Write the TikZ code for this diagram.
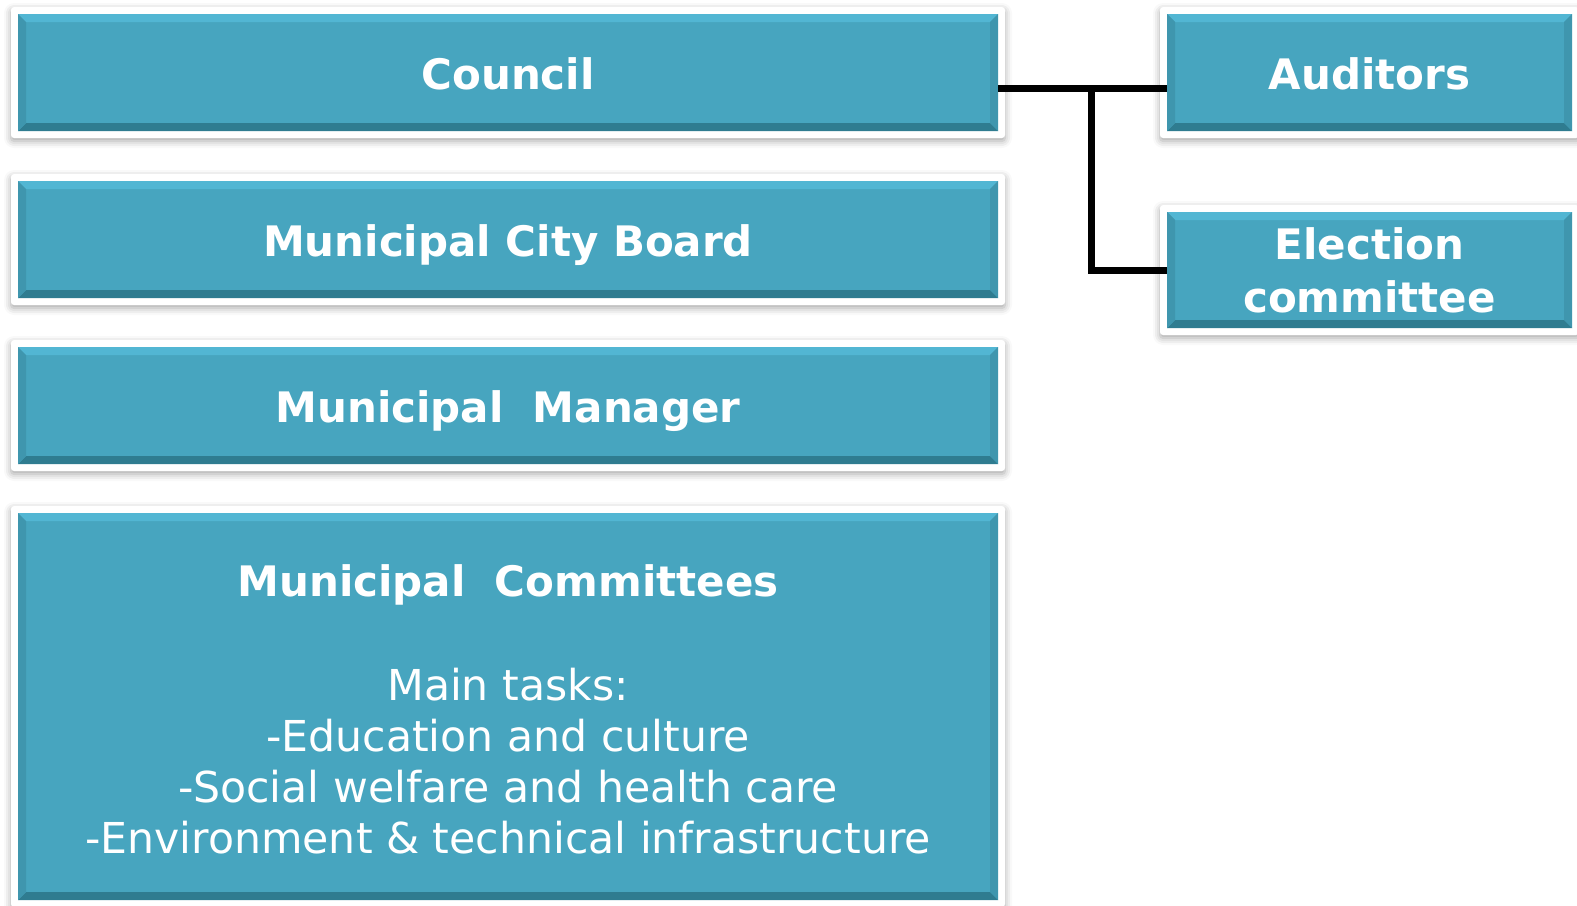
\documentclass[tikz,border=0pt]{standalone}
\usepackage{fontspec}
\setmainfont{DejaVu Sans}
\usetikzlibrary{shadows.blur,backgrounds}
\definecolor{tealbase}{HTML}{47A5BF}
\definecolor{tealtop}{HTML}{52B6D3}
\definecolor{tealbot}{HTML}{2F7C90}
\definecolor{tealside}{HTML}{3F96AE}
\tikzset{
  frame/.style={fill=white, rounded corners=3pt,
    blur shadow={shadow xshift=0pt, shadow yshift=-3pt, shadow blur radius=7pt, shadow opacity=35}},
  bevelbox/.style={rectangle, inner sep=0pt, outer sep=0pt, fill=tealbase, text=white,
    align=center, font=\fontsize{42}{51}\selectfont\bfseries,
    path picture={
      \coordinate (pp-nw) at (path picture bounding box.north west);
      \coordinate (pp-ne) at (path picture bounding box.north east);
      \coordinate (pp-sw) at (path picture bounding box.south west);
      \coordinate (pp-se) at (path picture bounding box.south east);
      \fill[tealtop] (pp-nw) -- (pp-ne) -- ([shift={(-8pt,-8pt)}]pp-ne) -- ([shift={(8pt,-8pt)}]pp-nw) -- cycle;
      \fill[tealbot] (pp-sw) -- (pp-se) -- ([shift={(-8pt,8pt)}]pp-se) -- ([shift={(8pt,8pt)}]pp-sw) -- cycle;
      \fill[tealside] (pp-nw) -- (pp-sw) -- ([shift={(8pt,8pt)}]pp-sw) -- ([shift={(8pt,-8pt)}]pp-nw) -- cycle;
      \fill[tealside] (pp-ne) -- (pp-se) -- ([shift={(-8pt,8pt)}]pp-se) -- ([shift={(-8pt,-8pt)}]pp-ne) -- cycle;
    }},
  oneline/.style={text height=34pt, text depth=0pt},
  conn/.style={line width=7pt, black},
}
\newcommand{\bodyfont}{\fontsize{42.6}{51}\selectfont\mdseries}
\begin{document}
\begin{tikzpicture}[x=1pt,y=-1pt]
\useasboundingbox (0,0) rectangle (1577,905);
\node[bevelbox, oneline, minimum width=980pt, minimum height=117pt] (council) at (508,72.5) {Council};
\node[bevelbox, oneline, minimum width=980pt, minimum height=117pt] (board) at (508,239.5) {Municipal City Board};
\node[bevelbox, oneline, minimum width=980pt, minimum height=117pt] (manager) at (508,405.5) {Municipal\ \ Manager};
\node[bevelbox, minimum width=980pt, minimum height=387pt] (committees) at (508,706.5) {};
\node[text=white, align=center, font=\fontsize{42}{51}\selectfont\bfseries, inner sep=0pt] (ctext) at ([yshift=-3pt]committees.center)
  {Municipal\ \ Committees\\[53pt]\bodyfont Main tasks:\\\bodyfont -Education and culture\\\bodyfont -Social welfare and health care\\\bodyfont -Environment \& technical infrastructure};
\node[bevelbox, oneline, minimum width=405pt, minimum height=117pt] (auditors) at (1369.5,72.5) {Auditors};
\node[bevelbox, minimum width=405pt, minimum height=116pt, font=\fontsize{42}{53}\selectfont\bfseries] (election) at (1369.5,270) {Election\\committee};
\begin{scope}[on background layer]
  \foreach \n in {council,board,manager,committees,auditors,election}{
    \path[frame] ([shift={(-7pt,7pt)}]\n.north west) rectangle ([shift={(7pt,-7pt)}]\n.south east);
  }
\end{scope}
\coordinate (j1) at ([yshift=-15.5pt]council.east);
\coordinate (branch) at (1091,88);
\draw[conn] (j1) -- (j1 -| auditors.west);
\draw[conn] (branch) |- (election.west);
\end{tikzpicture}
\end{document}
